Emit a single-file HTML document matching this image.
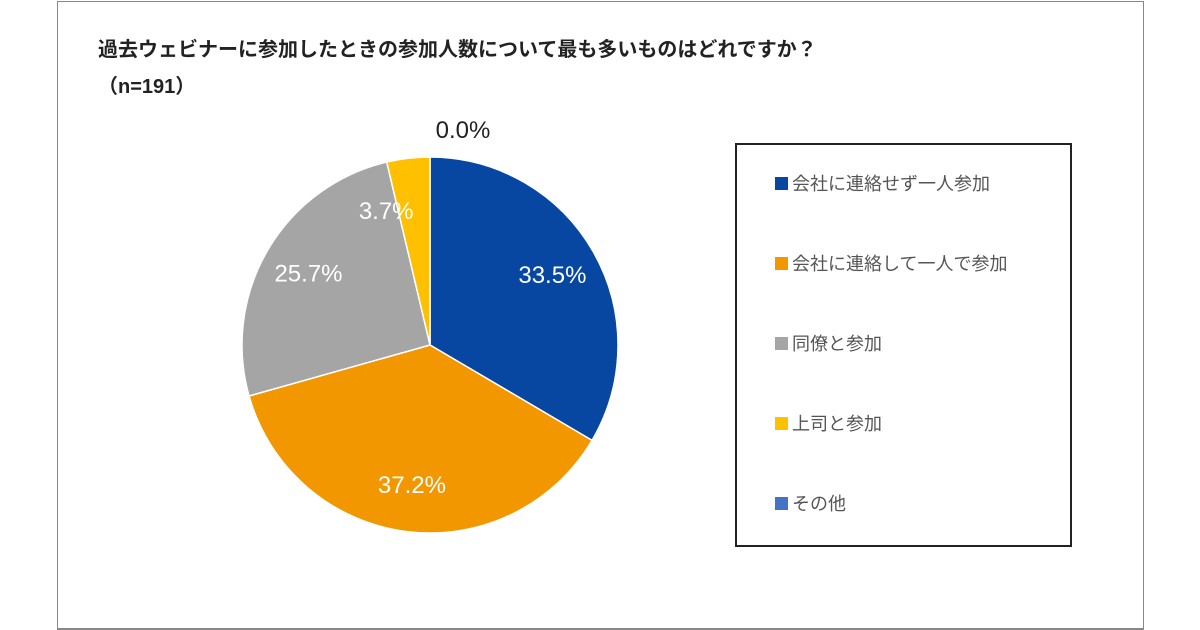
<!DOCTYPE html>
<html><head><meta charset="utf-8"><style>
body{margin:0;width:1200px;height:630px;background:#fff;overflow:hidden;font-family:"Liberation Sans","Noto Sans CJK JP",sans-serif}
#frame{position:absolute;left:57px;top:1px;width:1085px;height:626px;border:1.5px solid #888;border-bottom-width:2px}
.t{position:absolute;color:#222;font-weight:bold}
#legend{position:absolute;left:735px;top:143px;width:333px;height:400px;border:2px solid #222}
.li{position:absolute;left:38px;font-size:18px;color:#555;white-space:nowrap;font-family:"Noto Sans CJK JP",sans-serif}
.sw{display:inline-block;width:13px;height:13px;margin-right:4px;vertical-align:0px}
</style></head><body>
<div id="frame"></div>
<div class="t" style="left:98px;top:33px;font-size:20px;font-family:'Liberation Sans','Noto Sans CJK JP',sans-serif">過去ウェビナーに参加したときの参加人数について最も多いものはどれですか？</div>
<div class="t" style="left:98px;top:70px;font-size:20px">（n=191）</div>
<svg id="pie" width="1200" height="630" style="position:absolute;left:0;top:0"></svg>
<div id="legend"></div>
<script>
const categories=["会社に連絡せず一人参加","会社に連絡して一人で参加","同僚と参加","上司と参加","その他"];
const values=[33.5,37.2,25.7,3.7,0.0];
const labels=["33.5%","37.2%","25.7%","3.7%","0.0%"];
const colors=["#0747a1","#f39700","#a5a5a5","#ffc000","#4472c4"];
const cx=430,cy=345,r=188;
const svg=document.getElementById('pie');const NS='http://www.w3.org/2000/svg';
const total=values.reduce((a,b)=>a+b,0);
let acc=0;
const pt=(a,rr)=>[cx+rr*Math.sin(a),cy-rr*Math.cos(a)];
values.forEach((v,i)=>{
  const a0=acc/total*2*Math.PI;acc+=v;const a1=acc/total*2*Math.PI;
  if(v>0){
    const p0=pt(a0,r),p1=pt(a1,r);
    const path=document.createElementNS(NS,'path');
    path.setAttribute('d',`M${cx},${cy}L${p0[0]},${p0[1]}A${r},${r} 0 ${a1-a0>Math.PI?1:0} 1 ${p1[0]},${p1[1]}Z`);
    path.setAttribute('fill',colors[i]);path.setAttribute('stroke','#fff');path.setAttribute('stroke-width','1.5');
    
    
    svg.appendChild(path);
  }
  let am=(a0+a1)/2;
  if(v>0&&v<5) am-=0.2;
  const lr=v>0?r*0.75:r*1.1;
  const lp=pt(am,lr);
  const t=document.createElementNS(NS,'text');
  t.setAttribute('x',v>0?lp[0]:463);t.setAttribute('y',v>0?lp[1]+8:138);
  t.setAttribute('text-anchor','middle');t.setAttribute('font-size','24');
  t.setAttribute('font-family','Liberation Sans, sans-serif');
  t.setAttribute('fill',v>0?'#fff':'#222');
  t.textContent=labels[i];
  
  
  svg.appendChild(t);
});
const lg=document.getElementById('legend');
categories.forEach((c,i)=>{
  const d=document.createElement('div');d.className='li';d.style.top=(25+i*80)+'px';
  d.innerHTML=`<span class="sw" style="background:${colors[i]}"></span>${c}`;
  
  
  lg.appendChild(d);
});
</script>
</body></html>
